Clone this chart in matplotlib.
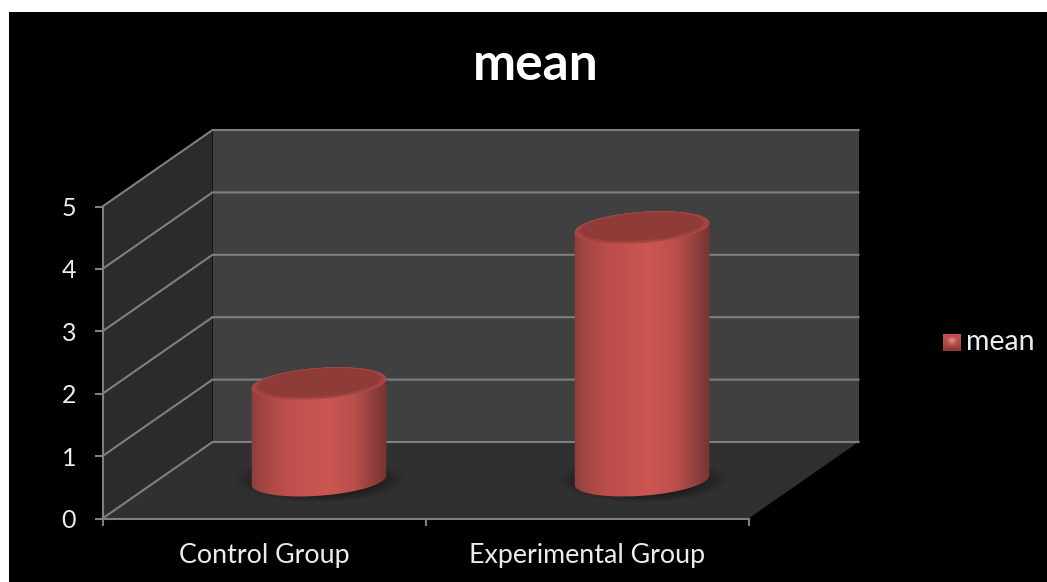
import numpy as np
import matplotlib
matplotlib.use("Agg")
import matplotlib.pyplot as plt
from matplotlib.patches import Polygon, PathPatch, Rectangle
from matplotlib.path import Path
from matplotlib.colors import LinearSegmentedColormap

categories = ["Control Group", "Experimental Group"]
means = [1.55, 4.05]
y_ticks = [0, 1, 2, 3, 4, 5]
series_name = "mean"

W, H = 1047, 582
plt.rcParams["font.family"] = ["Lato", "DejaVu Sans"]

fig = plt.figure(figsize=(W / 100, H / 100), dpi=100, facecolor="white")

# Black chart area inside a thin white margin
fig.add_artist(Rectangle((9 / W, 0), (W - 9) / W, 1 - 12 / H, transform=fig.transFigure,
                         fc="black", ec="none", zorder=-5))

# Front plane of the 3D box
L, R, T, B = 102.5, 748.5, 206.5, 518.5
ax = fig.add_axes([L / W, 1 - B / H, (R - L) / W, (B - T) / H])
ax.patch.set_alpha(0)

n = len(categories)
top = y_ticks[-1]
ux = (R - L) / n
uy = (B - T) / top
DX, DY = 110 / ux, 76.5 / uy  # depth vector in data units


def proj(x, y, d=0.0):
    return x + d * DX, y + d * DY


def quad(pts, **kw):
    ax.add_patch(Polygon([proj(*p) for p in pts], closed=True, clip_on=False, **kw))


quad([(0, 0, 1), (n, 0, 1), (n, top, 1), (0, top, 1)], fc="#404040", ec="none", zorder=1)
quad([(0, 0, 0), (0, 0, 1), (0, top, 1), (0, top, 0)], fc="#2b2b2b", ec="none", zorder=1)
quad([(0, 0, 0), (n, 0, 0), (n, 0, 1), (0, 0, 1)], fc="#303030", ec="none", zorder=1)

grid = "#7f7f7f"
for v in y_ticks:
    pts = [proj(0, v, 0), proj(0, v, 1), proj(n, v, 1)]
    ax.plot(*zip(*pts), color=grid, lw=1.5, clip_on=False, zorder=2, solid_joinstyle="miter")

shadow_cmap = LinearSegmentedColormap.from_list(
    "shadow", [(0, 0, 0, 0.75), (0, 0, 0, 0.6), (0, 0, 0, 0)])
body_cmap = LinearSegmentedColormap.from_list(
    "body",
    [(0.0, "#8c3e3c"), (0.07, "#a04543"), (0.25, "#bc4e4b"), (0.55, "#cc5652"),
     (0.75, "#ba4f4c"), (0.90, "#8f3f3d"), (1.0, "#743230")])
cap_cmap = LinearSegmentedColormap.from_list(
    "cap", ["#8f3b38", "#8f3b38", "#a04442", "#ad4a47"])

RADIUS = 67.5 / ux
TILT = 4.2
MINOR_PX = 15.5


def px_ellipse(cx, cy, a_px, b_px, tilt=TILT):
    """Ellipse outline in data units, from pixel semi-axes."""
    t = np.linspace(0, 2 * np.pi, 181)
    ex, ey = a_px * np.cos(t), b_px * np.sin(t)
    r = np.radians(tilt)
    px = ex * np.cos(r) - ey * np.sin(r)
    py = ex * np.sin(r) + ey * np.cos(r)
    return cx + px / ux, cy + py / uy


for i, val in enumerate(means):
    cx, y0 = proj(i + 0.5, 0, 0.5)
    y1 = y0 + val
    a_px = RADIUS * ux

    # soft shadow on the floor
    xx = np.linspace(cx - 1.35 * RADIUS, cx + 1.35 * RADIUS, 160)
    yy = np.linspace(y0 - 0.42, y0 + 0.42, 90)
    X, Y = np.meshgrid(xx, yy)
    rr = np.sqrt(((X - cx) / (1.27 * RADIUS)) ** 2 + ((Y - y0) * uy / 23) ** 2)
    ax.imshow(np.clip(rr, 0, 1), extent=(xx[0], xx[-1], yy[0], yy[-1]), origin="lower",
              cmap=shadow_cmap, vmin=0, vmax=1, aspect="auto", zorder=3, clip_on=False,
              interpolation="bilinear")

    # cylinder wall: the upper half of the top ellipse down to the lower half of the base
    bx, by = px_ellipse(cx, y0, a_px, MINOR_PX)
    tx, ty = px_ellipse(cx, y1, a_px, MINOR_PX)
    body_path = Path(np.vstack([
        np.column_stack([tx[:91], ty[:91]]),
        np.column_stack([bx[90:], by[90:]]),
        [[tx[0], ty[0]]],
    ]))
    grad = np.linspace(0, 1, 256).reshape(1, -1)
    im = ax.imshow(grad, extent=(cx - RADIUS * 1.01, cx + RADIUS * 1.01, y0 - 0.4, y1 + 0.4),
                   cmap=body_cmap, aspect="auto", zorder=4, interpolation="bilinear")
    clip = PathPatch(body_path, transform=ax.transData, fc="none", ec="none")
    ax.add_patch(clip)
    im.set_clip_path(clip)

    # top cap: nested ellipses give a soft bevel around a darker centre
    steps = 14
    for k in range(steps):
        f = k / (steps - 1)
        ex, ey = px_ellipse(cx, y1 + 1.6 * f / uy, a_px * (1 - 0.16 * f), MINOR_PX * (1 - 0.22 * f))
        ax.fill(ex, ey, fc=cap_cmap(1 - f), ec="none", zorder=5, clip_on=False)

ax.set_xlim(0, n)
ax.set_ylim(0, top)

# Axis lines and ticks on the front plane
for s in ("top", "right"):
    ax.spines[s].set_visible(False)
for s in ("left", "bottom"):
    ax.spines[s].set_color(grid)
    ax.spines[s].set_linewidth(1.5)
    ax.spines[s].set_zorder(6)
label_color = "#ececec"
ax.set_yticks(y_ticks)
ax.set_xticks(range(n + 1))
ax.set_xticklabels([])
ax.set_xticks([i + 0.5 for i in range(n)], minor=True)
ax.set_xticklabels(categories, minor=True)
ax.tick_params(axis="x", which="minor", length=0, pad=18, labelsize=19.3, labelcolor=label_color)
ax.tick_params(axis="x", which="major", length=5, width=1.5, color=grid)
ax.tick_params(axis="y", length=6, width=1.5, color=grid, pad=13, labelsize=18, labelcolor=label_color)

fig.text(536 / W, 1 - 65 / H, series_name, color="white", fontsize=37, fontweight="bold",
         ha="center", va="center")

# Legend swatch and label
leg = fig.add_axes([943 / W, 1 - 351 / H, 17 / W, 17 / H])
swatch = LinearSegmentedColormap.from_list("swatch", ["#7a3533", "#c0504d", "#f0a09c"])
leg.imshow(np.array([[0.5, 0.5, 0.5], [0.45, 0.95, 0.45], [0.35, 0.55, 0.35], [0.15, 0.1, 0.15]]),
           cmap=swatch, vmin=0, vmax=1, interpolation="bilinear", aspect="auto")
leg.set_axis_off()
fig.text(966 / W, 1 - 342 / H, series_name, color=label_color, fontsize=20.5, ha="left", va="center")

fig.savefig("out.png", dpi=100, facecolor="white")
